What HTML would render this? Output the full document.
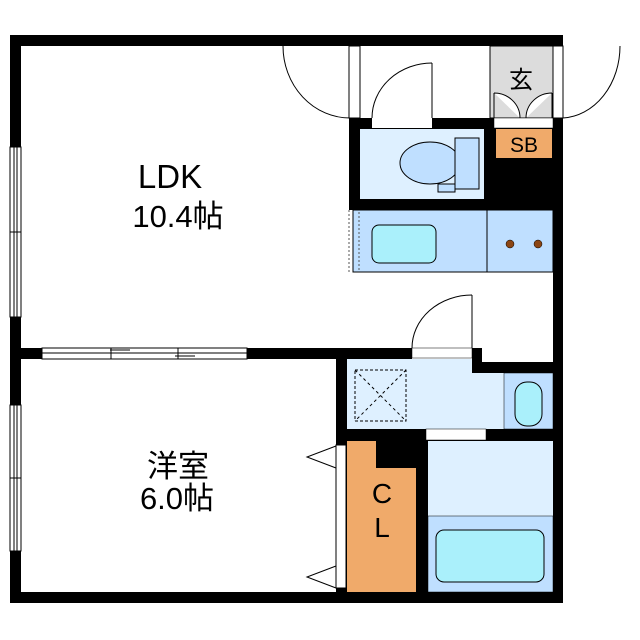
<!DOCTYPE html>
<html><head><meta charset="utf-8"><style>html,body{margin:0;padding:0;background:#fff}svg{display:block}</style></head>
<body>
<svg width="640" height="640" viewBox="0 0 640 640" xmlns="http://www.w3.org/2000/svg" font-family="'Liberation Sans','Noto Sans CJK JP',sans-serif">
<rect width="640" height="640" fill="#fff"/>
<!-- outer walls -->
<rect x="10" y="35" width="553" height="11" fill="#000"/>
<rect x="10" y="35" width="11" height="568" fill="#000"/>
<rect x="10" y="592" width="553" height="11" fill="#000"/>
<rect x="553" y="118" width="10" height="485" fill="#000"/>
<!-- left windows -->
<g fill="#fff" stroke="#000" stroke-width="1">
<rect x="10" y="147" width="11" height="170"/>
<rect x="10" y="405" width="11" height="146"/>
</g>
<g stroke="#000" stroke-width="1">
<line x1="14" y1="147" x2="14" y2="317"/><line x1="17" y1="147" x2="17" y2="317"/>
<line x1="14" y1="405" x2="14" y2="551"/><line x1="17" y1="405" x2="17" y2="551"/>
<line x1="10" y1="232" x2="21" y2="232"/><line x1="10" y1="478" x2="21" y2="478"/>
</g>
<!-- LDK/洋室 partition -->
<rect x="10" y="348" width="339" height="11" fill="#000"/>
<rect x="42" y="348" width="205" height="11" fill="#fff" stroke="#000" stroke-width="1"/>
<line x1="42" y1="353" x2="247" y2="353" stroke="#000" stroke-width="1"/>
<line x1="110" y1="350" x2="130" y2="350" stroke="#000"/><line x1="111" y1="348" x2="111" y2="359" stroke="#000"/>
<line x1="175" y1="356" x2="195" y2="356" stroke="#000"/><line x1="178" y1="348" x2="178" y2="359" stroke="#000"/>
<!-- top door into LDK -->
<rect x="349" y="46" width="11" height="72" fill="#fff" stroke="#000" stroke-width="1"/>
<path d="M283 46 A67 72 0 0 0 350 118" fill="none" stroke="#000" stroke-width="1"/>
<!-- toilet block -->
<rect x="349" y="118" width="204" height="92" fill="#000"/>
<rect x="360" y="129" width="124" height="70" fill="#def0ff"/>
<ellipse cx="430" cy="163" rx="30" ry="21" fill="#bfdfff" stroke="#000" stroke-width="1"/>
<rect x="455" y="138" width="24" height="51" fill="#bfdfff" stroke="#000" stroke-width="1"/>
<rect x="438" y="184" width="17" height="8" fill="#bfdfff" stroke="#000" stroke-width="1"/>
<rect x="372" y="118" width="60" height="10" fill="#fff"/>
<line x1="432" y1="63" x2="432" y2="118" stroke="#000"/>
<path d="M432 63 A60 55 0 0 0 372 118" fill="none" stroke="#000"/>
<!-- genkan -->
<rect x="490" y="46" width="63" height="72" fill="#dcdcdc" stroke="#000" stroke-width="1"/>
<text x="521" y="88" font-size="24" text-anchor="middle">玄</text>
<path d="M494 93 L494 118 M494 93 A26 25 0 0 1 520 118 M552 93 L552 118 M552 93 A26 25 0 0 0 526 118" fill="#fff" stroke="#000"/>
<rect x="494" y="118" width="59" height="10" fill="#fff" stroke="#000" stroke-width="0.5"/>
<rect x="496" y="129" width="56" height="29" fill="#f0aa6a"/>
<text x="524" y="152" font-size="21" text-anchor="middle">SB</text>
<!-- outside entrance door -->
<rect x="553" y="46" width="10" height="72" fill="#fff" stroke="#000" stroke-width="1"/>
<path d="M563 46 L563 118 M563 118 A60 72 0 0 0 620 46" fill="none" stroke="#000"/>
<!-- kitchen -->
<rect x="353" y="210" width="200" height="62" fill="#bfdfff" stroke="#000" stroke-width="1"/>
<line x1="487" y1="210" x2="487" y2="272" stroke="#000"/>
<rect x="372" y="225" width="64" height="38" rx="7" fill="#aaf0fb" stroke="#000"/>
<circle cx="510" cy="244" r="4" fill="#8b4513" stroke="#000" stroke-width="0.5"/>
<circle cx="538" cy="244" r="4" fill="#8b4513" stroke="#000" stroke-width="0.5"/>
<line x1="349" y1="210" x2="349" y2="272" stroke="#555" stroke-dasharray="2,2"/>
<line x1="359" y1="212" x2="359" y2="270" stroke="#555" stroke-dasharray="2,2"/>
<!-- wash area walls -->
<rect x="336" y="348" width="76" height="12" fill="#000"/>
<rect x="472" y="348" width="10" height="25" fill="#000"/>
<rect x="472" y="362" width="91" height="11" fill="#000"/>
<rect x="412" y="348" width="60" height="10" fill="#fff" stroke="#000" stroke-width="0.5"/>
<line x1="472" y1="295" x2="472" y2="348" stroke="#000"/>
<path d="M472 295 A60 53 0 0 0 412 348" fill="none" stroke="#000"/>
<rect x="347" y="359" width="125" height="70" fill="#def0ff"/>
<rect x="472" y="373" width="32" height="56" fill="#def0ff"/>
<rect x="355" y="370" width="51" height="51" fill="none" stroke="#000" stroke-dasharray="3,2"/>
<path d="M355 370 L406 421 M406 370 L355 421" stroke="#000" stroke-dasharray="3,3"/>
<rect x="504" y="373" width="49" height="56" fill="#bfdfff" stroke="#000" stroke-width="0.5"/>
<rect x="515" y="382" width="27" height="44" rx="12" fill="#aaf0fb" stroke="#000"/>
<!-- vertical wall / CL -->
<rect x="336" y="359" width="11" height="244" fill="#000"/>
<rect x="347" y="429" width="206" height="12" fill="#000"/>
<rect x="426" y="429" width="60" height="11" fill="#fff" stroke="#000" stroke-width="0.5"/>
<path d="M428 441 L443 441 L436 462 Z" fill="#fff" stroke="#000"/>
<rect x="336" y="445" width="10" height="143" fill="#fff" stroke="#000"/>
<path d="M336 446 L307 457 L336 468 M336 566 L307 577 L336 588" fill="none" stroke="#000"/>
<path d="M347 441 L376 441 L376 468 L416 468 L416 592 L347 592 Z" fill="#f0aa6a"/>
<rect x="376" y="441" width="40" height="27" fill="#000"/>
<rect x="416" y="441" width="12" height="151" fill="#000"/>
<text x="382" y="503" font-size="28" text-anchor="middle">C</text>
<text x="382" y="537" font-size="28" text-anchor="middle">L</text>
<!-- bath -->
<rect x="428" y="441" width="125" height="75" fill="#def0ff"/>
<rect x="428" y="516" width="125" height="76" fill="#bfdfff" stroke="#000" stroke-width="0.5"/>
<rect x="436" y="530" width="108" height="52" rx="8" fill="#aaf0fb" stroke="#000"/>
<!-- labels -->
<text x="170" y="188" font-size="33" text-anchor="middle">LDK</text>
<text x="178" y="227" font-size="31" text-anchor="middle">10.4帖</text>
<text x="178" y="477" font-size="31" text-anchor="middle">洋室</text>
<text x="177" y="509" font-size="31" text-anchor="middle">6.0帖</text>
</svg>
</body></html>
